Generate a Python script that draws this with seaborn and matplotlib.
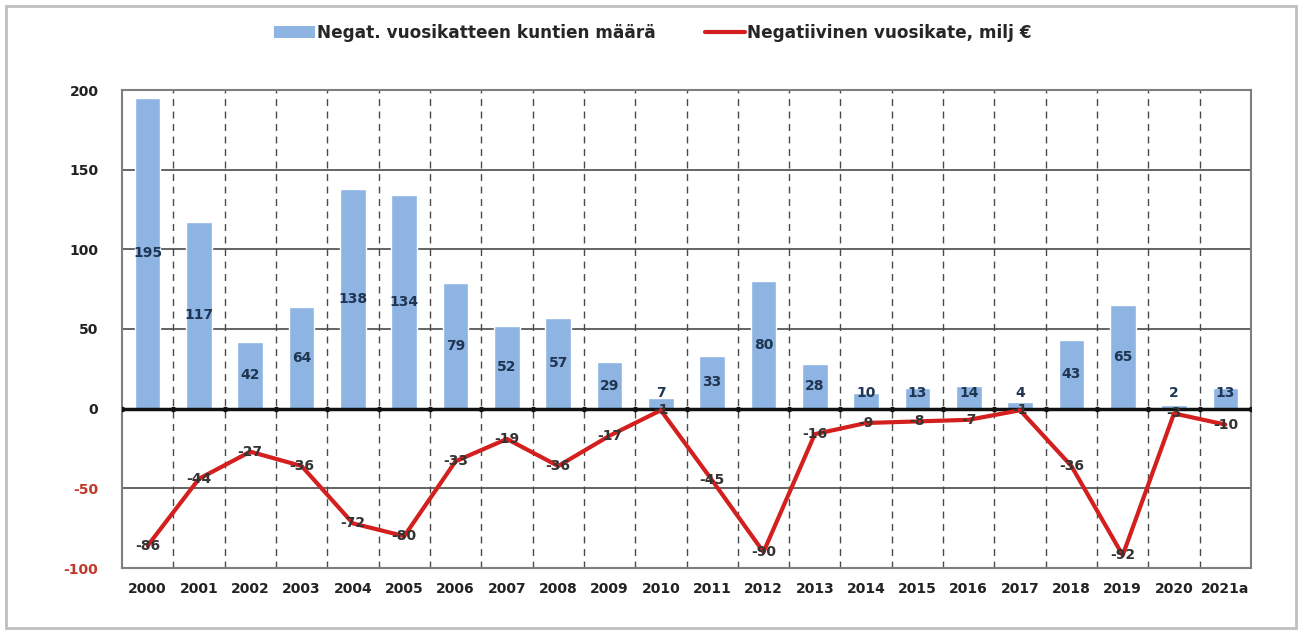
import numpy as np
import pandas as pd
import matplotlib
matplotlib.use("Agg")
import matplotlib.pyplot as plt
from matplotlib.patches import Patch, Rectangle
from matplotlib.lines import Line2D
import seaborn as sns

years = ["2000", "2001", "2002", "2003", "2004", "2005", "2006", "2007", "2008", "2009",
         "2010", "2011", "2012", "2013", "2014", "2015", "2016", "2017", "2018", "2019",
         "2020", "2021a"]
kunnat = [195, 117, 42, 64, 138, 134, 79, 52, 57, 29, 7, 33, 80, 28, 10, 13, 14, 4, 43, 65, 2, 13]
vuosikate = [-86, -44, -27, -36, -72, -80, -33, -19, -36, -17, -1, -45, -90, -16, -9, -8, -7, -1,
             -36, -92, -3, -10]
bar_label = "Negat. vuosikatteen kuntien määrä"
line_label = "Negatiivinen vuosikate, milj €"
yticks = [-100, -50, 0, 50, 100, 150, 200]

sns.set_theme(style="white")
plt.rcParams["font.family"] = ["DejaVu Sans"]

BAR_C = "#8DB4E2"
LINE_C = "#D41F1F"
GRID_C = "#4A4A4A"

df = pd.DataFrame({"vuosi": years, "kunnat": kunnat, "vuosikate": vuosikate})

fig = plt.figure(figsize=(13.04, 6.33), dpi=100)
ax = fig.add_axes([122 / 1304, 1 - 568 / 633, (1251 - 122) / 1304, (568 - 90) / 633])

# grid lines
for v in [-50, 50, 100, 150]:
    ax.axhline(v, color=GRID_C, lw=1.2, zorder=0)
for i in range(len(years) - 1):
    ax.axvline(i + 0.5, color=GRID_C, lw=1.0, ls=(0, (5, 4)), zorder=0)

sns.barplot(data=df, x="vuosi", y="kunnat", color=BAR_C, width=0.5, saturation=1,
            ax=ax, zorder=2)
sns.pointplot(data=df, x="vuosi", y="vuosikate", color=LINE_C, errorbar=None,
              markersize=0, linewidth=3, ax=ax, zorder=4)

ax.axhline(0, color="#111111", lw=2.5, zorder=3)
ax.plot(np.arange(len(years) + 1) - 0.5, np.zeros(len(years) + 1), ls="none",
        marker="o", ms=3, color="#111111", zorder=3)

ax.set_xlim(-0.5, len(years) - 0.5)
ax.set_ylim(-100, 200)
ax.set_yticks(yticks)
ax.set_yticklabels([str(t) for t in yticks], fontsize=10, fontweight="bold")
for lab, t in zip(ax.get_yticklabels(), yticks):
    lab.set_color("#C0392B" if t < 0 else "#222222")
ax.tick_params(axis="y", length=0, pad=17)
ax.tick_params(axis="x", length=0, pad=10)
ax.set_xticks(range(len(years)))
ax.set_xticklabels(years, fontsize=10, fontweight="bold", color="#222222")
ax.set_xlabel("")
ax.set_ylabel("")
for s in ax.spines.values():
    s.set_color("#7F7F7F")
    s.set_linewidth(1.5)

for i, v in enumerate(kunnat):
    ax.text(i, max(v / 2, 10), str(v), ha="center", va="center", fontsize=10,
            fontweight="bold", color="#1F3552", zorder=5)
for i, v in enumerate(vuosikate):
    ax.text(i, v, str(v), ha="center", va="center", fontsize=10,
            fontweight="bold", color="#333333", zorder=5)

handles = [Patch(facecolor=BAR_C, edgecolor="none"),
           Line2D([0], [0], color=LINE_C, lw=3)]
fig.legend(handles, [bar_label, line_label], loc="center", ncol=2,
           bbox_to_anchor=(653 / 1304, 1 - 33 / 633), frameon=False,
           prop={"size": 12.2, "weight": "bold"},
           handlelength=2.4, handletextpad=0.1, columnspacing=2.9)

fig.patches.append(Rectangle((6 / 1304, 5 / 633), 1290 / 1304, 622 / 633,
                             transform=fig.transFigure, fill=False,
                             edgecolor="#BFBFBF", lw=2))

fig.savefig("out.png", dpi=100, facecolor="white")
